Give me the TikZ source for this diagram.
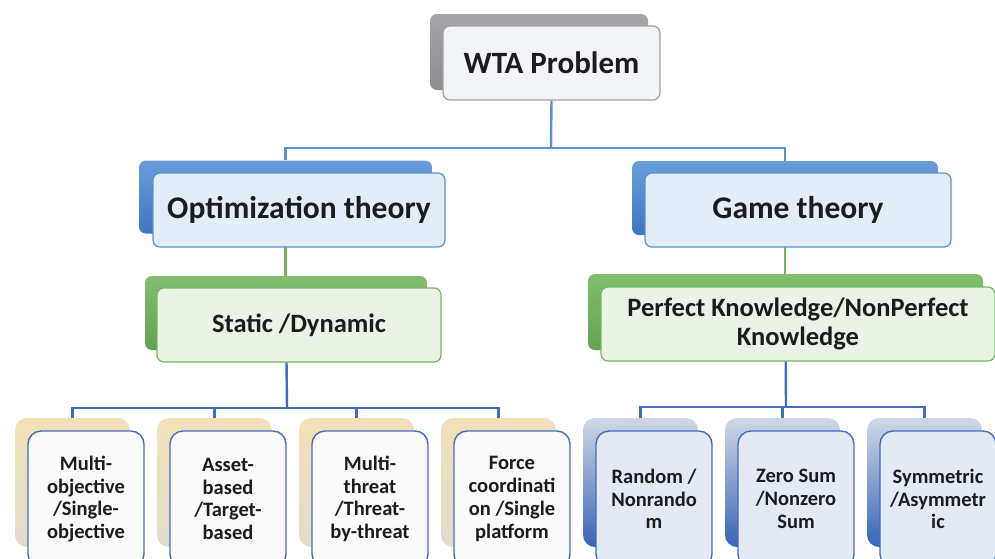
\documentclass[tikz,border=0pt]{standalone}
\usepackage{fontspec}
\setmainfont{Carlito}
\usetikzlibrary{backgrounds}
\definecolor{grayA}{RGB}{165,165,170}
\definecolor{grayB}{RGB}{140,140,146}
\definecolor{grayLine}{RGB}{160,160,165}
\definecolor{grayFill}{RGB}{243,244,245}
\definecolor{blueA}{RGB}{105,158,216}
\definecolor{blueB}{RGB}{62,118,192}
\definecolor{blueLine}{RGB}{88,145,210}
\definecolor{blueFill}{RGB}{227,237,247}
\definecolor{greenA}{RGB}{130,190,110}
\definecolor{greenB}{RGB}{98,163,82}
\definecolor{greenLine}{RGB}{118,182,98}
\definecolor{greenFill}{RGB}{234,243,230}
\definecolor{tanA}{RGB}{242,224,184}
\definecolor{tanB}{RGB}{226,220,204}
\definecolor{navyLine}{RGB}{68,108,188}
\definecolor{whiteFill}{RGB}{250,250,250}
\definecolor{dkblue}{RGB}{55,100,182}
\definecolor{ltblue}{RGB}{208,216,230}
\definecolor{paleblue}{RGB}{227,234,244}
\definecolor{ink}{RGB}{28,28,30}
\tikzset{
  box/.style={rectangle, inner sep=0pt, align=center, text=ink},
  bigback/.style={box, rounded corners=7pt},
  bigfront/.style={box, rounded corners=7pt, line width=1.2pt},
  smallback/.style={box, rounded corners=12pt, minimum width=115pt, minimum height=129pt},
  smallfront/.style={box, rounded corners=13pt, line width=1.4pt, minimum width=116pt, minimum height=136pt,
     font=\fontsize{20.5}{22.7}\selectfont\bfseries},
  tanback/.style={smallback, top color=tanA, bottom color=tanB},
  tanfront/.style={smallfront, draw=navyLine, fill=whiteFill},
  bluback/.style={smallback, top color=ltblue, bottom color=dkblue},
  blufront/.style={smallfront, draw=navyLine, fill=paleblue},
  conn/.style={line width=2.4pt},
}
\begin{document}
\begin{tikzpicture}[x=1pt,y=-1pt]
\useasboundingbox (0,0) rectangle (995,558);
\clip (0,0) rectangle (995,558);
% level 0
\node[bigback, top color=grayA, bottom color=grayB, minimum width=218pt, minimum height=76pt] (wtaB) at (539,52) {};
\node[bigfront, draw=grayLine, fill=grayFill, minimum width=217pt, minimum height=74pt,
      font=\fontsize{31}{36}\selectfont\bfseries] (wtaF) at (551.5,63) {WTA Problem};
% level 1
\node[bigback, top color=blueA, bottom color=blueB, minimum width=293pt, minimum height=73pt] (optB) at (285.5,197) {};
\node[bigfront, draw=blueLine, fill=blueFill, minimum width=292pt, minimum height=74pt,
      font=\fontsize{31.5}{36}\selectfont\bfseries] (optF) at (299,210) {Optimization theory};
\node[bigback, top color=blueA, bottom color=blueB, minimum width=306pt, minimum height=74pt] (gameB) at (785,198) {};
\node[bigfront, draw=blueLine, fill=blueFill, minimum width=306pt, minimum height=74pt,
      font=\fontsize{31.5}{36}\selectfont\bfseries] (gameF) at (798,210) {Game theory};
% level 2
\node[bigback, top color=greenA, bottom color=greenB, minimum width=282pt, minimum height=74pt] (statB) at (286,313) {};
\node[bigfront, draw=greenLine, fill=greenFill, minimum width=284pt, minimum height=74pt,
      font=\fontsize{26.5}{29}\selectfont\bfseries] (statF) at (299,325) {Static /Dynamic};
\node[bigback, top color=greenA, bottom color=greenB, minimum width=395pt, minimum height=76pt] (perfB) at (785.5,312) {};
\node[bigfront, draw=greenLine, fill=greenFill, minimum width=394pt, minimum height=74pt,
      font=\fontsize{26.5}{29}\selectfont\bfseries] (perfF) at (798,324) {Perfect Knowledge/NonPerfect\\Knowledge};
% level 3 left
\node[tanback] (l1B) at (72.5,482.5) {};
\node[tanfront] (l1F) at (86,499) {Multi-\\objective\\/Single-\\objective};
\node[tanback] (l2B) at (214.5,482.5) {};
\node[tanfront] (l2F) at (228,499) {Asset-\\based\\/Target-\\based};
\node[tanback] (l3B) at (356.5,482.5) {};
\node[tanfront] (l3F) at (370,499) {Multi-\\threat\\/Threat-\\by-threat};
\node[tanback] (l4B) at (498.5,482.5) {};
\node[tanfront] (l4F) at (512,499) {Force\\coordinati\\on /Single\\platform};
% level 3 right
\node[bluback] (r1B) at (640.5,482.5) {};
\node[blufront] (r1F) at (654,499) {Random /\\Nonrando\\m};
\node[bluback] (r2B) at (782.5,482.5) {};
\node[blufront] (r2F) at (796,499) {Zero Sum\\/Nonzero\\Sum};
\node[bluback] (r3B) at (924.5,482.5) {};
\node[blufront] (r3F) at (938,499) {Symmetric\\/Asymmetr\\ic};
% connectors
\coordinate (busA) at (551,148);
\coordinate (busL) at (287,408);
\coordinate (busR) at (786,407);
\begin{pgfonlayer}{background}
  \fill[white] (0,0) rectangle (995,558);
  \draw[conn, draw=blueLine] (wtaF.south) -- (busA);
  \draw[conn, draw=blueLine] (optB.north) |- (busA) -| (gameB.north);
  \draw[conn, draw=greenLine] (optB.center) -- (optB.center |- statB.north);
  \draw[conn, draw=greenLine] (gameB.center) -- (gameB.center |- perfB.north);
  \draw[conn, draw=navyLine] (statB.center) -- (busL);
  \draw[conn, draw=navyLine] (l1B.north) |- (busL) -| (l4B.north);
  \draw[conn, draw=navyLine] (l2B.north) -- (l2B.north |- busL);
  \draw[conn, draw=navyLine] (l3B.north) -- (l3B.north |- busL);
  \draw[conn, draw=navyLine] (perfB.center) -- (busR);
  \draw[conn, draw=navyLine] (r1B.north) |- (busR) -| (r3B.north);
  \draw[conn, draw=navyLine] (r2B.north) -- (r2B.north |- busR);
\end{pgfonlayer}
\end{tikzpicture}
\end{document}
